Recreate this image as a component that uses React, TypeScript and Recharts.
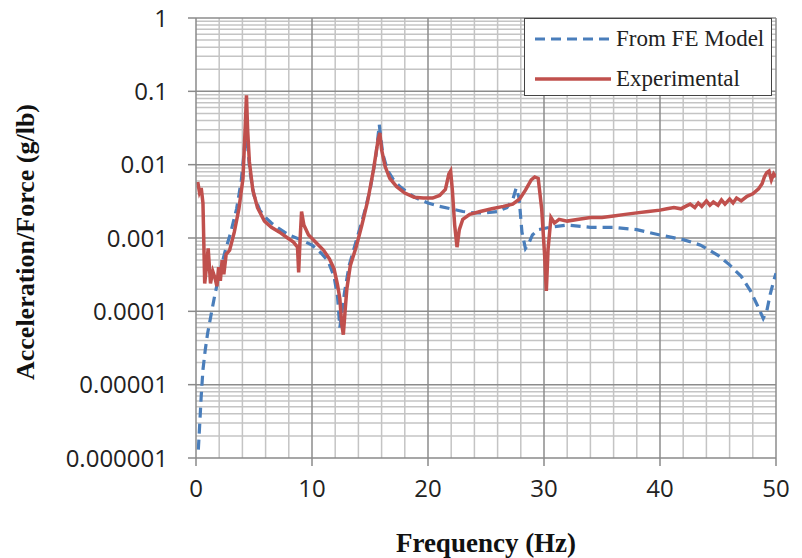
import React from "react";
import {
  LineChart,
  Line,
  XAxis,
  YAxis,
  ReferenceLine,
} from "recharts";

// frequency (Hz) / accel-force (g/lb)
const feFreq = [
  0.2, 0.3, 0.45, 0.6, 0.8, 1.0, 1.3, 1.6, 2.0, 2.5, 3.0, 3.5, 3.9, 4.15, 4.3,
  4.45, 4.65, 5.0, 5.5, 6.0, 6.5, 7.0, 8.0, 9.0, 10.0, 10.8, 11.4, 11.9, 12.2,
  12.4, 12.55, 12.8, 13.2, 13.8, 14.4, 15.0, 15.5, 15.8, 16.1, 16.5, 17.0, 17.6,
  18.3, 19.0, 20.0, 21.0, 22.0, 23.0, 24.0, 25.0, 26.0, 26.8, 27.3, 27.6, 27.85,
  28.1, 28.4, 28.7, 29.0, 29.5, 30.5, 32, 34, 36, 38, 40, 42, 43.5, 45, 46, 47,
  47.8, 48.4, 48.9, 49.2, 49.5, 49.8, 50,
];
const feVal = [
  1.3e-6, 2.5e-6, 7e-6, 1.6e-5, 3e-5, 5e-5, 9e-5, 0.00016, 0.00032, 0.00065,
  0.0012, 0.0025, 0.006, 0.015, 0.03, 0.018, 0.008, 0.0038, 0.0024, 0.0019,
  0.0016, 0.0014, 0.0011, 0.00095, 0.0008, 0.00062, 0.00048, 0.0003, 0.00016,
  0.00006, 0.00009, 0.00018, 0.00042, 0.0009, 0.0019, 0.0045, 0.013, 0.035,
  0.014, 0.0085, 0.0063, 0.005, 0.0041, 0.0035, 0.003, 0.0027, 0.0025, 0.0023,
  0.0022, 0.0022, 0.0023, 0.0026, 0.0033, 0.0048, 0.0035, 0.0012, 0.00072,
  0.00085, 0.0011, 0.0013, 0.0014, 0.0015, 0.0014, 0.0014, 0.0013, 0.0011,
  0.00095, 0.0008, 0.00058, 0.00043, 0.0003, 0.00019, 0.00012, 0.00008, 0.0001,
  0.00017, 0.00026, 0.00033,
];

const expFreq = [
  0.15, 0.3, 0.45, 0.6, 0.75, 0.9, 1.05, 1.25, 1.45, 1.65, 1.8, 1.95, 2.1, 2.25,
  2.4, 2.6, 2.9, 3.3, 3.7, 4.05, 4.25, 4.35, 4.45, 4.6, 4.9, 5.3, 5.9, 6.5, 7.2,
  7.9, 8.4, 8.75, 8.85, 8.95, 9.1, 9.3, 9.7, 10.3, 11.0, 11.5, 11.9, 12.2, 12.4,
  12.55, 12.7, 12.85, 13.0, 13.3, 13.8, 14.3, 14.8, 15.3, 15.7, 15.85, 16.0,
  16.3, 16.7, 17.3, 18.0, 18.8, 19.6, 20.4, 21.0, 21.5, 21.8, 21.95, 22.1, 22.3,
  22.5, 22.7, 23.0, 23.6, 24.5, 25.5, 26.5, 27.3, 27.9, 28.4, 28.9, 29.2, 29.5,
  29.8, 30.05, 30.2, 30.35, 30.6, 30.9, 31.3, 32, 33, 34, 35, 36, 37, 38, 39,
  40, 40.6, 41.2, 41.8, 42.2, 42.6, 43, 43.3, 43.6, 44, 44.3, 44.6, 45, 45.3,
  45.6, 46, 46.3, 46.6, 47, 47.5, 48, 48.5, 48.8, 49.0, 49.2, 49.4, 49.6, 49.8,
  50,
];
const expVal = [
  0.0058, 0.0042, 0.0048, 0.003, 0.00024, 0.0004, 0.00072, 0.00024, 0.00035,
  0.00028, 0.00022, 0.0004, 0.00026, 0.0005, 0.00032, 0.0006, 0.00068, 0.0012,
  0.0025, 0.0065, 0.035, 0.088, 0.03, 0.011, 0.0045, 0.0026, 0.0017, 0.0014,
  0.0012, 0.001, 0.00088, 0.00075, 0.00034, 0.0008, 0.0023, 0.0015, 0.0011,
  0.00088, 0.00068, 0.00052, 0.00038, 0.00023, 0.00015, 0.00007, 0.000048,
  0.0001, 0.0002, 0.00042, 0.00075, 0.0015, 0.0032, 0.0085, 0.022, 0.027,
  0.016, 0.0095, 0.0065, 0.005, 0.0041, 0.0036, 0.0035, 0.0035, 0.0038, 0.0046,
  0.0075, 0.0082, 0.0045, 0.0015, 0.00075, 0.0013, 0.0018, 0.0021, 0.0023,
  0.0025, 0.0027, 0.0029, 0.0034, 0.0045, 0.0062, 0.0068, 0.0065, 0.0025,
  0.0006, 0.00019, 0.0007, 0.0019, 0.0016, 0.0018, 0.0017, 0.0018, 0.0019,
  0.0019, 0.002, 0.0021, 0.0022, 0.0023, 0.0024, 0.0025, 0.0026, 0.0025,
  0.0027, 0.0029, 0.0026, 0.003, 0.0027, 0.0032, 0.0028, 0.0031, 0.0028,
  0.0033, 0.0029, 0.0034, 0.003, 0.0035, 0.0032, 0.0037, 0.004, 0.0047, 0.0055,
  0.0068, 0.0078, 0.0082, 0.0062, 0.0075, 0.0068, 0.0088, 0.0085,
];

const xTicks = [0, 10, 20, 30, 40, 50];
const yTicks = [1e-6, 1e-5, 1e-4, 1e-3, 1e-2, 1e-1, 1];
const yTickLabels = ["0.000001", "0.00001", "0.0001", "0.001", "0.01", "0.1", "1"];

const xMinor = [2, 4, 6, 8, 12, 14, 16, 18, 22, 24, 26, 28, 32, 34, 36, 38, 42, 44, 46, 48];
const xMajor = [10, 20, 30, 40, 50];
const yMinorMult = [2, 3, 4, 5, 6, 7, 8, 9];
const yMinor = yTicks.slice(0, -1).flatMap((d) => yMinorMult.map((m) => m * d));

const feData = feFreq.map((f, i) => ({ f, v: feVal[i] }));
const expData = expFreq.map((f, i) => ({ f, v: expVal[i] }));

const BLUE = "#4a7ebb";
const RED = "#c0504d";
const tickFont = { fontFamily: "'Open Sans', sans-serif", fontSize: 24, fill: "#222" };

export default function App() {
  return (
    <div
      style={{
        position: "absolute",
        left: 0,
        top: 0,
        width: 802,
        height: 558,
        background: "#fff",
      }}
    >
      <LineChart
        width={802}
        height={558}
        margin={{ top: 18, right: 26, bottom: 40, left: 0 }}
      >
        <XAxis
          dataKey="f"
          type="number"
          domain={[0, 50]}
          ticks={xTicks}
          allowDataOverflow
          height={60}
          tickSize={8}
          tickMargin={14}
          axisLine={{ stroke: "#8a8a8a", strokeWidth: 1.5 }}
          tickLine={{ stroke: "#8a8a8a", strokeWidth: 1.5 }}
          tick={tickFont}
        />
        <YAxis
          dataKey="v"
          type="number"
          scale="log"
          domain={[1e-6, 1]}
          ticks={yTicks}
          allowDataOverflow
          width={196}
          tickSize={8}
          tickMargin={20}
          axisLine={{ stroke: "#8a8a8a", strokeWidth: 1.5 }}
          tickLine={{ stroke: "#8a8a8a", strokeWidth: 1.5 }}
          tick={tickFont}
          tickFormatter={(v: number) => yTickLabels[yTicks.findIndex((t) => Math.abs(t - v) < t * 1e-6)] ?? String(v)}
        />

        {yMinor.map((y) => (
          <ReferenceLine key={"ym" + y} y={y} stroke="#c4c4c4" strokeWidth={1.5} />
        ))}
        {xMinor.map((x) => (
          <ReferenceLine key={"xm" + x} x={x} stroke="#c4c4c4" strokeWidth={1.5} />
        ))}
        {yTicks.slice(1).map((y) => (
          <ReferenceLine key={"yM" + y} y={y} stroke="#8c8c8c" strokeWidth={1.5} />
        ))}
        {xMajor.map((x) => (
          <ReferenceLine key={"xM" + x} x={x} stroke="#8c8c8c" strokeWidth={1.5} />
        ))}

        <Line
          data={feData}
          dataKey="v"
          type="linear"
          stroke={BLUE}
          strokeWidth={3.2}
          strokeDasharray="10 6"
          dot={false}
          isAnimationActive={false}
        />
        <Line
          data={expData}
          dataKey="v"
          type="linear"
          stroke={RED}
          strokeWidth={3.5}
          dot={false}
          isAnimationActive={false}
        />
      </LineChart>

      {/* legend box */}
      <div
        style={{
          position: "absolute",
          left: 524,
          top: 18,
          width: 246,
          height: 76,
          border: "1.5px solid #444",
          background: "#fff",
          fontFamily: "'Liberation Serif', serif",
          fontSize: 23,
          color: "#222",
        }}
      >
        <div style={{ position: "absolute", left: 10, top: 7, display: "flex", alignItems: "center" }}>
          <svg width={76} height={10}>
            <line x1={0} y1={5} x2={76} y2={5} stroke={BLUE} strokeWidth={3.2} strokeDasharray="10 6" />
          </svg>
          <span style={{ marginLeft: 5 }}>From FE Model</span>
        </div>
        <div style={{ position: "absolute", left: 10, top: 47, display: "flex", alignItems: "center" }}>
          <svg width={76} height={10}>
            <line x1={0} y1={5} x2={76} y2={5} stroke={RED} strokeWidth={3.5} />
          </svg>
          <span style={{ marginLeft: 5 }}>Experimental</span>
        </div>
      </div>

      {/* axis titles */}
      <div
        style={{
          position: "absolute",
          left: 26,
          top: 242,
          transform: "translate(-50%, -50%) rotate(-90deg)",
          whiteSpace: "nowrap",
          fontFamily: "'Liberation Serif', serif",
          fontWeight: "bold",
          fontSize: 26,
          color: "#111",
        }}
      >
        Acceleration/Force (g/lb)
      </div>
      <div
        style={{
          position: "absolute",
          left: 486,
          top: 543,
          transform: "translate(-50%, -50%)",
          whiteSpace: "nowrap",
          fontFamily: "'Liberation Serif', serif",
          fontWeight: "bold",
          fontSize: 27,
          color: "#111",
        }}
      >
        Frequency (Hz)
      </div>
    </div>
  );
}
